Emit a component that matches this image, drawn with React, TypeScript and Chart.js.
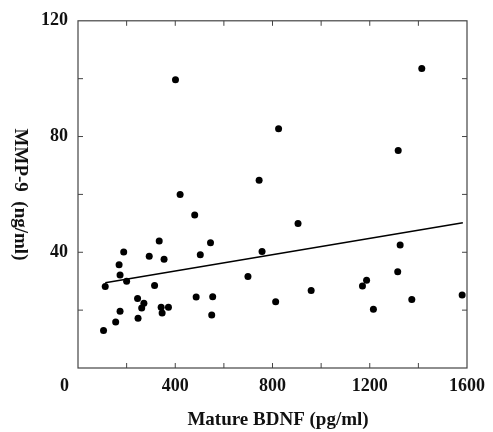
import React, { useEffect, useRef } from "react";
import { Chart, registerables } from "chart.js";

Chart.register(...registerables);

const bdnf = [334, 188, 293, 354, 169, 173, 200, 112, 315, 486, 245, 271, 262, 342, 372, 173, 346, 155, 247, 105,
  745, 420, 480, 545, 503, 757, 699, 554, 550, 813, 401, 1414, 825, 1317, 905, 1325, 1315, 1187, 1170, 959, 1373, 1215, 1580];
const mmp9 = [43.9, 40.1, 38.6, 37.6, 35.7, 32.1, 30.0, 28.2, 28.5, 24.5, 24.0, 22.4, 20.7, 21.0, 21.0, 19.6, 19.0, 15.9, 17.2, 13.0,
  64.9, 60.0, 52.9, 43.3, 39.1, 40.3, 31.6, 24.6, 18.3, 22.9, 99.6, 103.5, 82.7, 75.2, 49.9, 42.5, 33.3, 30.3, 28.3, 26.8, 23.7, 20.3, 25.2];
const fitX = [112, 1583];
const fitY = [29.5, 50.2];
const xTickLabels = [0, 400, 800, 1200, 1600];
const yTickLabels = [40, 80, 120];
const xTitle = "Mature BDNF (pg/ml)";
const yTitle = "MMP-9  (ng/ml)";

const FONT = "'Liberation Serif', 'Times New Roman', serif";

const framePlugin = {
  id: "frame",
  afterDraw(chart: any) {
    const { ctx, chartArea: a, scales } = chart;
    const xs = scales.x;
    const ys = scales.y;
    ctx.save();
    ctx.strokeStyle = "#444";
    ctx.lineWidth = 1.2;
    ctx.strokeRect(a.left, a.top, a.right - a.left, a.bottom - a.top);
    ctx.lineWidth = 1;
    const tl = 5;
    for (let v = 200; v < 1600; v += 200) {
      const px = xs.getPixelForValue(v);
      ctx.beginPath();
      ctx.moveTo(px, a.bottom);
      ctx.lineTo(px, a.bottom - tl);
      ctx.moveTo(px, a.top);
      ctx.lineTo(px, a.top + tl);
      ctx.stroke();
    }
    for (let v = 20; v < 120; v += 20) {
      const py = ys.getPixelForValue(v);
      ctx.beginPath();
      ctx.moveTo(a.left, py);
      ctx.lineTo(a.left + tl, py);
      ctx.moveTo(a.right, py);
      ctx.lineTo(a.right - tl, py);
      ctx.stroke();
    }
    ctx.fillStyle = "#111";
    ctx.font = `bold 19px ${FONT}`;
    ctx.textAlign = "center";
    ctx.textBaseline = "middle";
    ctx.fillText(xTitle, 278, 420);
    ctx.translate(20, 194.5);
    ctx.rotate(Math.PI / 2);
    ctx.fillText(yTitle, 0, 0);
    ctx.restore();
  },
};

export default function App() {
  const ref = useRef<HTMLCanvasElement>(null);
  useEffect(() => {
    document.body.style.margin = "0";
    const chart = new Chart(ref.current as HTMLCanvasElement, {
      type: "scatter",
      data: {
        datasets: [
          {
            data: bdnf.map((x, i) => ({ x, y: mmp9[i] })),
            pointRadius: 3.5,
            pointBackgroundColor: "#000",
            pointBorderWidth: 0,
            clip: false,
          },
          {
            data: fitX.map((x, i) => ({ x, y: fitY[i] })),
            showLine: true,
            pointRadius: 0,
            borderColor: "#000",
            borderWidth: 1.5,
          },
        ],
      } as any,
      options: {
        animation: false,
        responsive: false,
        layout: { padding: { left: 0, right: 21, top: 20, bottom: 0 } },
        plugins: { legend: { display: false }, tooltip: { enabled: false } },
        scales: {
          x: {
            type: "linear",
            min: 0,
            max: 1600,
            border: { display: false },
            grid: { display: false, drawTicks: false },
            ticks: {
              stepSize: 400,
              padding: 8,
              color: "#111",
              font: { family: FONT, size: 18, weight: "bold" },
              maxRotation: 0,
              callback: (v: any) =>
                xTickLabels.includes(v) ? (v === 0 ? "0\u2002\u2002\u2002" : String(v)) : "",
            },
            afterFit: (s: any) => {
              s.height = 64;
            },
          },
          y: {
            type: "linear",
            min: 0,
            max: 120,
            border: { display: false },
            grid: { display: false, drawTicks: false },
            ticks: {
              stepSize: 20,
              padding: 10,
              color: "#111",
              font: { family: FONT, size: 18, weight: "bold" },
              callback: (v: any) => (yTickLabels.includes(v) ? String(v) : ""),
            },
            afterFit: (s: any) => {
              s.width = 78;
            },
          },
        },
      } as any,
      plugins: [framePlugin],
    });
    return () => chart.destroy();
  }, []);
  return (
    <div style={{ width: 493, height: 432, background: "#fff" }}>
      <canvas ref={ref} width={493} height={432} />
    </div>
  );
}
